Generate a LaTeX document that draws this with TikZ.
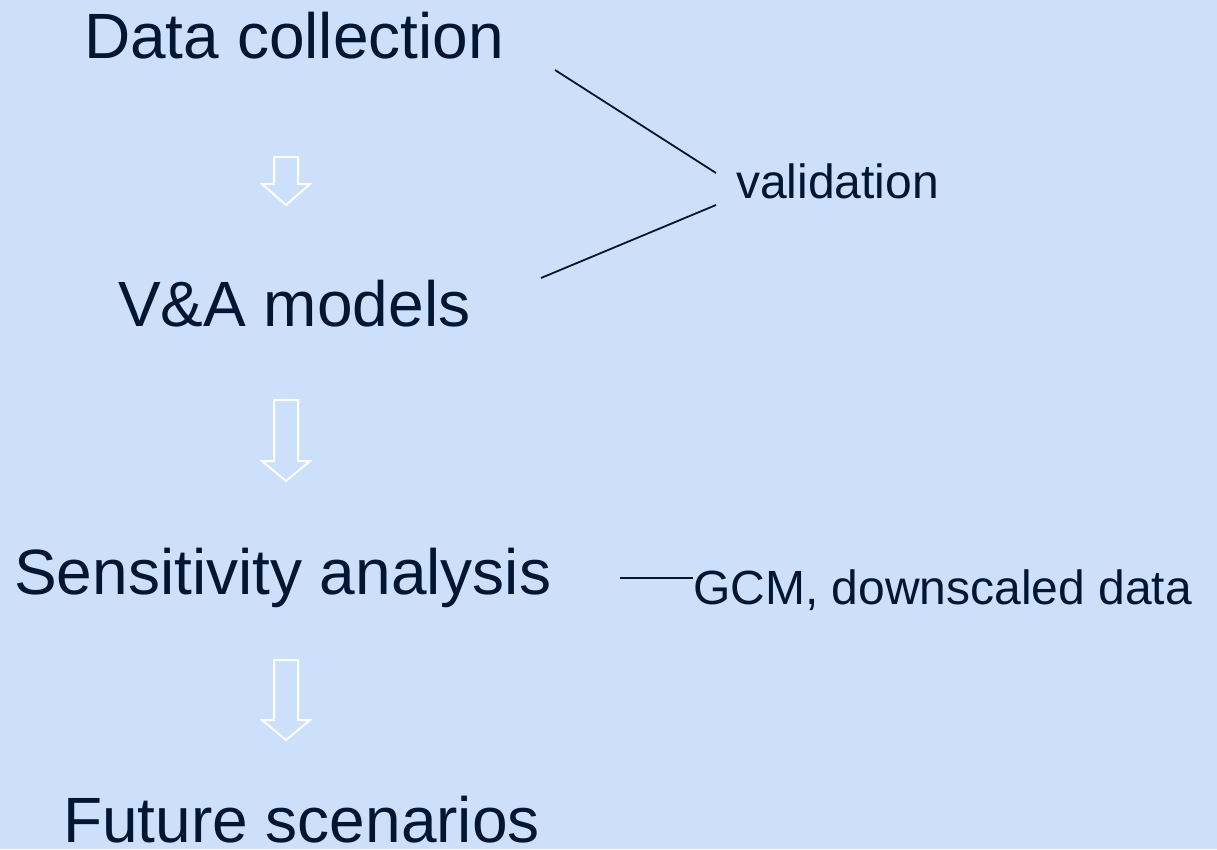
\documentclass[tikz,border=0pt]{standalone}
\usepackage{fontspec}
\setmainfont{Liberation Sans}
\usetikzlibrary{positioning}

\definecolor{bgblue}{RGB}{204,224,252}
\definecolor{inkblue}{RGB}{0,22,50}

\begin{document}
\begin{tikzpicture}[x=1pt,y=-1pt,
  big/.style={inner sep=0pt,anchor=base west,text=inkblue,font=\fontsize{64}{76}\selectfont},
  small/.style={inner sep=0pt,anchor=base west,text=inkblue,font=\fontsize{48}{58}\selectfont},
  thin/.style={draw=inkblue,line width=1.8pt},
  blockarrow/.style={draw=white,line width=2pt,line join=miter}]
\fill[bgblue] (0,0) rectangle (1217,849);
\useasboundingbox (0,0) rectangle (1217,849);

% les etapes
\node[big] (data) at (84,58) {Data collection};
\node[big] (models) at (118,326) {V\&A models};
\node[big] (sens) at (14,594) {Sensitivity analysis};
\node[big] (future) at (63,842) {Future scenarios};

% les remarques
\node[small] (valid) at (736,198) {validation};
\node[small] (gcm) at (693,604) {GCM, downscaled data};

% les fleches
\draw[blockarrow] (274,157) -- (298,157) -- (298,184) -- (310,184) -- (286,205) -- (262,184) -- (274,184) -- cycle;
\draw[blockarrow] (274,400) -- (298,400) -- (298,461) -- (310,461) -- (286,481) -- (262,461) -- (274,461) -- cycle;
\draw[blockarrow] (274,660) -- (298,660) -- (298,720) -- (310,720) -- (286,740) -- (262,720) -- (274,720) -- cycle;

% les traits
\coordinate (vtop) at (555,70);
\coordinate (vtopend) at (716,173);
\coordinate (vbot) at (541,278);
\coordinate (vbotend) at (716,205);
\coordinate (gcmstart) at (620,578);
\draw[thin] (vtop) -- (vtopend);
\draw[thin] (vbot) -- (vbotend);
\draw[thin] (gcmstart) -- (gcm.west |- gcmstart);
\end{tikzpicture}
\end{document}
